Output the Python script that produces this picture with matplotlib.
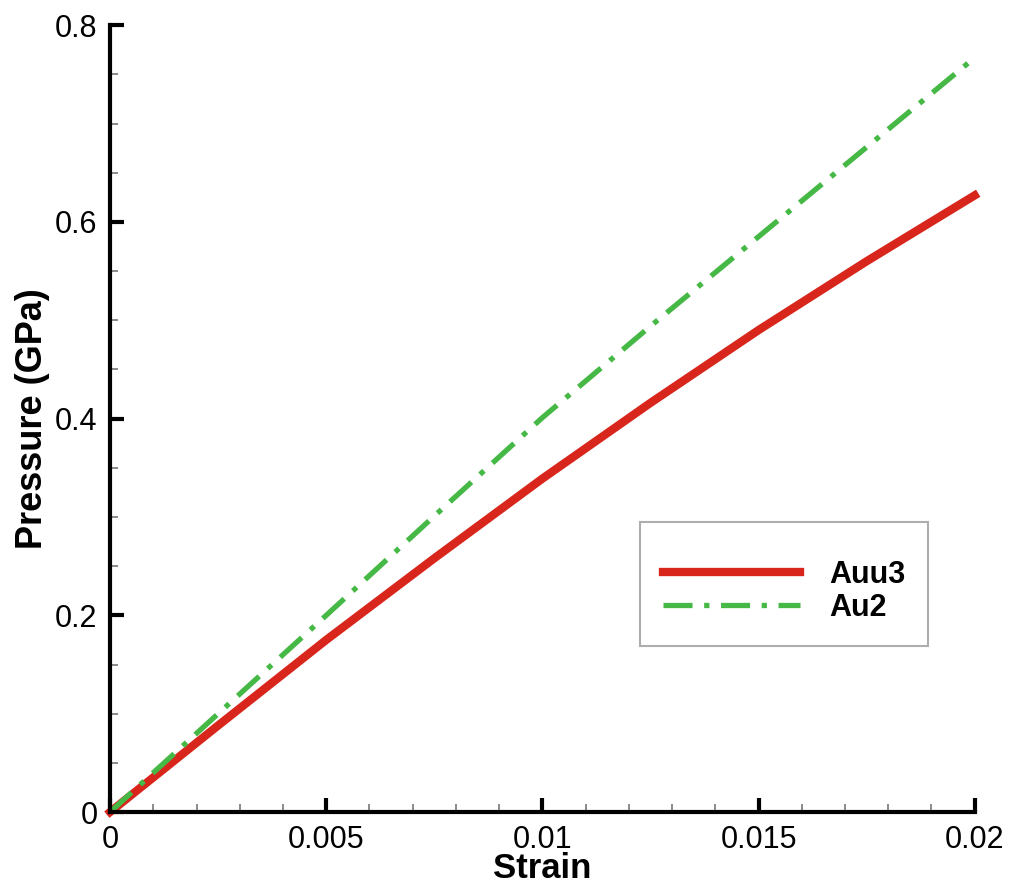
import matplotlib.pyplot as plt
from matplotlib.ticker import MultipleLocator, FixedFormatter, FixedLocator

# Pressure-strain curves
strain = [0, 0.0025, 0.005, 0.0075, 0.01, 0.0125, 0.015, 0.0175, 0.02]
p_auu3 = [0, 0.088, 0.175, 0.258, 0.339, 0.416, 0.490, 0.560, 0.627]
p_au2 = [0, 0.100, 0.200, 0.301, 0.401, 0.494, 0.585, 0.676, 0.767]

xticks = [0, 0.005, 0.01, 0.015, 0.02]
xtick_labels = ['0', '0.005', '0.01', '0.015', '0.02']
yticks = [0, 0.2, 0.4, 0.6, 0.8]
ytick_labels = ['0', '0.2', '0.4', '0.6', '0.8']

plt.rcParams['font.family'] = ['Liberation Sans', 'DejaVu Sans']

fig = plt.figure(figsize=(10.1, 8.86), dpi=100)
ax = fig.add_axes([0.109, 0.0835, 0.856, 0.888])

ax.plot(strain, p_auu3, color='#d8261c', lw=6, label='Auu3', clip_on=False)
ax.plot(strain, p_au2, color='#46b845', lw=3.8, dashes=(5.5, 2.2, 1, 2.2),
        label='Au2', clip_on=False)

ax.set_xlim(0, 0.02)
ax.set_ylim(0, 0.8)
ax.xaxis.set_major_locator(FixedLocator(xticks))
ax.xaxis.set_major_formatter(FixedFormatter(xtick_labels))
ax.yaxis.set_major_locator(FixedLocator(yticks))
ax.yaxis.set_major_formatter(FixedFormatter(ytick_labels))
ax.xaxis.set_minor_locator(MultipleLocator(0.001))
ax.yaxis.set_minor_locator(MultipleLocator(0.05))

for side in ['top', 'right']:
    ax.spines[side].set_visible(False)
for side in ['left', 'bottom']:
    ax.spines[side].set_linewidth(3)

ax.tick_params(which='major', direction='in', length=10, width=3,
               labelsize=22, pad=9)
ax.tick_params(which='minor', direction='in', length=6, width=1.2,
               color='#777777')

ax.set_xlabel('Strain', fontsize=25, fontweight='bold', labelpad=-2)
ax.set_ylabel('Pressure (GPa)', fontsize=26, fontweight='bold', labelpad=4)

# blank small title just adds a little headroom above the entries
leg = ax.legend(loc='upper left', bbox_to_anchor=(0.6127, 0.3685),
                frameon=True, fancybox=False, handlelength=4.5,
                borderpad=0.75, labelspacing=0.1, handletextpad=0.95,
                borderaxespad=0, edgecolor='#999999',
                title=' ', title_fontsize=9,
                prop={'weight': 'bold', 'size': 22})
leg.get_frame().set_linewidth(1.5)

plt.savefig('out.png', dpi=100)
